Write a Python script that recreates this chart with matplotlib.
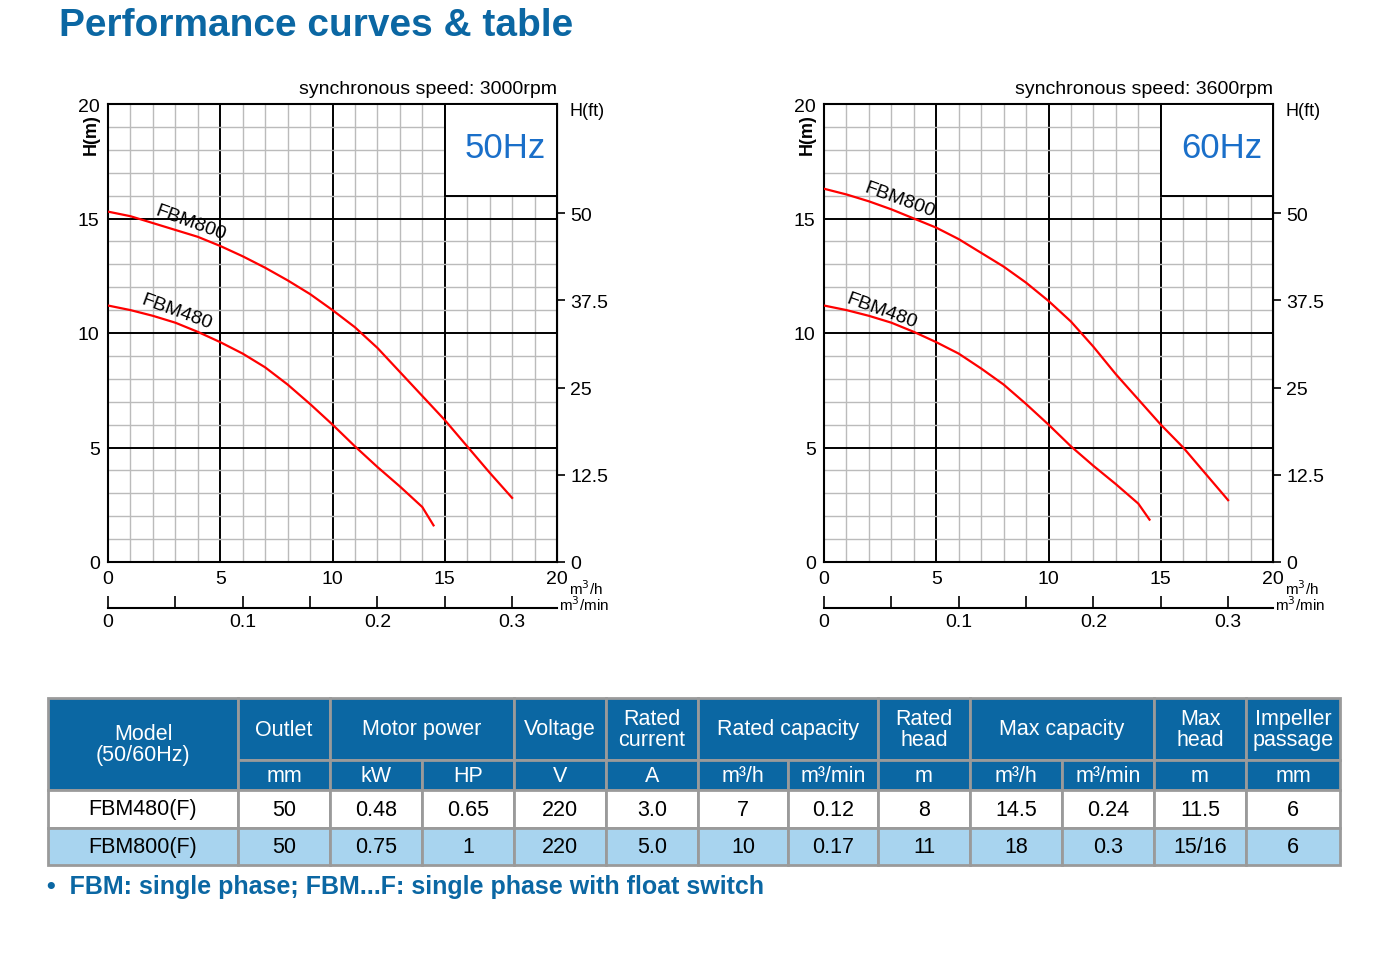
import matplotlib.pyplot as plt
from matplotlib.patches import Rectangle
from matplotlib.ticker import MultipleLocator

plt.rcParams['font.family'] = ['Liberation Sans', 'DejaVu Sans']

# curve data, flow in m3/h, head in m
q800_50 = [0, 1, 2, 3, 4, 5, 6, 7, 8, 9, 10, 11, 12, 13, 14, 15, 16, 17, 18]
h800_50 = [15.3, 15.1, 14.8, 14.5, 14.2, 13.8, 13.35, 12.85, 12.3, 11.7, 11.0, 10.25, 9.35, 8.3, 7.25, 6.2, 5.05, 3.9, 2.8]
q480_50 = [0, 1, 2, 3, 4, 5, 6, 7, 8, 9, 10, 11, 12, 13, 14, 14.5]
h480_50 = [11.2, 11.0, 10.75, 10.45, 10.05, 9.6, 9.1, 8.5, 7.75, 6.9, 6.0, 5.05, 4.15, 3.3, 2.4, 1.6]
q800_60 = [0, 1, 2, 3, 4, 5, 6, 7, 8, 9, 10, 11, 12, 13, 14, 15, 16, 17, 18]
h800_60 = [16.3, 16.05, 15.75, 15.4, 15.0, 14.6, 14.1, 13.5, 12.9, 12.2, 11.4, 10.5, 9.4, 8.2, 7.1, 6.0, 5.0, 3.85, 2.7]
q480_60 = [0, 1, 2, 3, 4, 5, 6, 7, 8, 9, 10, 11, 12, 13, 14, 14.5]
h480_60 = [11.2, 11.0, 10.75, 10.45, 10.05, 9.6, 9.1, 8.45, 7.75, 6.9, 6.0, 5.05, 4.2, 3.4, 2.55, 1.85]

ft_ticks = [0, 12.5, 25, 37.5, 50]

groups = [("Model\n(50/60Hz)", 1), ("Outlet", 1), ("Motor power", 2), ("Voltage", 1),
          ("Rated\ncurrent", 1), ("Rated capacity", 2), ("Rated\nhead", 1),
          ("Max capacity", 2), ("Max\nhead", 1), ("Impeller\npassage", 1)]
units = ["mm", "kW", "HP", "V", "A", "m³/h", "m³/min", "m", "m³/h", "m³/min", "m", "mm"]
rows = [["FBM480(F)", "50", "0.48", "0.65", "220", "3.0", "7", "0.12", "8", "14.5", "0.24", "11.5", "6"],
        ["FBM800(F)", "50", "0.75", "1", "220", "5.0", "10", "0.17", "11", "18", "0.3", "15/16", "6"]]

W, H = 1398, 978
fig = plt.figure(figsize=(W / 100, H / 100), dpi=100)
BLUE = '#0B67A3'
FS = 14


def chart(x0, hz, rpm, curves):
    ax = fig.add_axes([x0 / W, 1 - 563 / H, 449 / W, 458 / H])
    ax.set_xlim(0, 20)
    ax.set_ylim(0, 20)
    ax.xaxis.set_major_locator(MultipleLocator(5))
    ax.yaxis.set_major_locator(MultipleLocator(5))
    ax.xaxis.set_minor_locator(MultipleLocator(1))
    ax.yaxis.set_minor_locator(MultipleLocator(1))
    ax.grid(which='minor', color='#bbbbbb', lw=1)
    ax.grid(which='major', color='black', lw=1.4)
    ax.tick_params(which='both', length=0, labelsize=FS, pad=6)
    for s in ax.spines.values():
        s.set_linewidth(1.5)
    ax.text(-0.75, 18.7, "H(m)", rotation=90, fontsize=FS - 1, fontweight='bold',
            ha='center', va='center')
    for q, h in curves:
        ax.plot(q, h, color='red', lw=1.6, zorder=3)
    ax.add_patch(Rectangle((15, 16), 5, 4, facecolor='white', edgecolor='black', lw=1.4, zorder=4))
    ax.text(17.7, 18.1, f"{hz}Hz", color='#1a6fc9', fontsize=25, ha='center', va='center', zorder=5)
    ax.text(20, 20.3, f"synchronous speed: {rpm}rpm", ha='right', va='bottom', fontsize=FS)
    # right feet axis
    ay = ax.secondary_yaxis('right', functions=(lambda m: m / 0.3048, lambda f: f * 0.3048))
    ay.set_yticks(ft_ticks)
    ay.set_yticklabels(['0', '12.5', '25', '37.5', '50'])
    ay.tick_params(labelsize=FS, length=6, width=1.2)
    ax.text(20.55, 20.1, "H(ft)", fontsize=FS - 1, va='top')
    # m3/min axis
    ax2 = ax.secondary_xaxis('bottom', functions=(lambda x: x / 60, lambda v: v * 60))
    ax2.spines['bottom'].set_position(('outward', 33))
    ax2.spines['bottom'].set_linewidth(1.5)
    ax2.set_xticks([0, 0.1, 0.2, 0.3])
    ax2.set_xticklabels(['0', '0.1', '0.2', '0.3'])
    ax2.set_xticks([0.05, 0.15, 0.25], minor=True)
    ax2.tick_params(which='both', direction='in', length=9, width=1.2, labelsize=FS, pad=4)
    ax.text(20.55, -0.7, "m$^3$/h", fontsize=11, va='top')
    ax.text(20.1, -1.4, "m$^3$/min", fontsize=11, va='top')
    return ax


def label(ax, x, y, s):
    ax.text(x, y, s, rotation=-20, fontsize=FS, ha='left', va='bottom', rotation_mode='anchor')


a = chart(108, 50, 3000, [(q800_50, h800_50), (q480_50, h480_50)])
label(a, 2.0, 15.05, "FBM800")
label(a, 1.4, 11.15, "FBM480")
b = chart(824, 60, 3600, [(q800_60, h800_60), (q480_60, h480_60)])
label(b, 1.7, 16.05, "FBM800")
label(b, 0.9, 11.2, "FBM480")

fig.text(59 / W, 1 - 26 / H, "Performance curves & table", color=BLUE, fontsize=28,
         fontweight='heavy', va='center', ha='left')

# table drawn in pixel coords
t = fig.add_axes([0, 0, 1, 1], zorder=-1)
t.set_xlim(0, W)
t.set_ylim(H, 0)
t.axis('off')
cols = [48, 238, 330, 422, 514, 606, 698, 788, 878, 970, 1062, 1154, 1246, 1340]
ys = [699, 761, 791, 829, 866]
edge = '#9a9a9a'


def cell(c0, c1, r0, r1, txt, fc, tc):
    x0, x1, y0, y1 = cols[c0], cols[c1], ys[r0], ys[r1]
    t.add_patch(Rectangle((x0, y0), x1 - x0, y1 - y0, facecolor=fc, edgecolor=edge, lw=2))
    t.text((x0 + x1) / 2, (y0 + y1) / 2, txt, ha='center', va='center', color=tc,
           fontsize=15.5, linespacing=1.05)


c = 0
for name, span in groups:
    if c == 0:
        cell(0, 1, 0, 2, name, BLUE, 'white')
    else:
        cell(c, c + span, 0, 1, name, BLUE, 'white')
    c += span
for i, u in enumerate(units):
    cell(i + 1, i + 2, 1, 2, u, BLUE, 'white')
for r, row in enumerate(rows):
    fc = 'white' if r == 0 else '#A8D4EF'
    for i, v in enumerate(row):
        cell(i, i + 1, 2 + r, 3 + r, v, fc, 'black')

t.text(47, 887, "•  FBM: single phase; FBM...F: single phase with float switch", color=BLUE,
       fontsize=18, fontweight='heavy', va='center', ha='left')

fig.savefig("out.png", dpi=100)
